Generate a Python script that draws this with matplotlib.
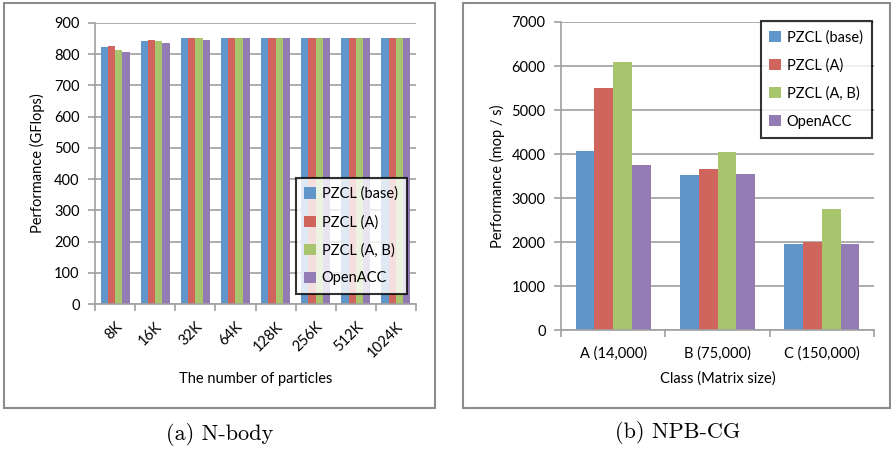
import numpy as np
import matplotlib
matplotlib.use("Agg")
import matplotlib.pyplot as plt
from matplotlib.patches import Rectangle

series = ["PZCL (base)", "PZCL (A)", "PZCL (A, B)", "OpenACC"]
colors = ["#6096C9", "#D0655E", "#A8C46C", "#937CB4"]

nbody_sizes = ["8K", "16K", "32K", "64K", "128K", "256K", "512K", "1024K"]
nbody_base = [822, 841, 851, 851, 851, 851, 851, 851]
nbody_a = [827, 847, 851, 851, 851, 851, 851, 851]
nbody_ab = [813, 841, 851, 851, 851, 851, 851, 851]
nbody_acc = [808, 837, 847, 851, 851, 851, 851, 851]

cg_classes = ["A (14,000)", "B (75,000)", "C (150,000)"]
cg_base = [4070, 3515, 1960]
cg_a = [5490, 3670, 2000]
cg_ab = [6080, 4040, 2750]
cg_acc = [3750, 3545, 1960]

plt.rcParams['font.family'] = ['Lato', 'DejaVu Sans']
W, H = 891, 449
fig = plt.figure(figsize=(W / 100, H / 100), dpi=100)

GRAY = "#A0A0A0"


def px_axes(x0, x1, y0, y1):
    return fig.add_axes([x0 / W, (H - y1) / H, (x1 - x0) / W, (y1 - y0) / H])


def excel_bars(ax, cats, data, ymax, ystep):
    n = len(cats)
    x = np.arange(n)
    bw = 0.18
    for i, (vals, c, lab) in enumerate(zip(data, colors, series)):
        ax.bar(x + (i - 1.5) * bw, vals, bw, color=c, label=lab, zorder=2)
    ax.set_xlim(-0.5, n - 0.5)
    ax.set_ylim(0, ymax)
    ax.set_yticks(np.arange(0, ymax + 1, ystep))
    ax.yaxis.grid(True, color=GRAY, lw=1.2, zorder=0)
    ax.set_axisbelow(True)
    for s in ["top", "right"]:
        ax.spines[s].set_visible(False)
    for s in ["left", "bottom"]:
        ax.spines[s].set_color(GRAY)
        ax.spines[s].set_linewidth(1.2)
    ax.set_xticks(np.arange(-0.5, n, 1.0))
    ax.set_xticklabels([])
    ax.set_xticks(x, minor=True)
    ax.tick_params(axis="x", which="major", length=5, color=GRAY, width=1.2)
    ax.tick_params(axis="x", which="minor", length=0)
    ax.tick_params(axis="y", length=5, color=GRAY, width=1.2, labelsize=10.5, pad=6)
    leg = ax.legend(frameon=True, fancybox=False, fontsize=10.5,
                    handlelength=0.8, handleheight=0.8, handletextpad=0.4,
                    labelspacing=0.95, borderpad=0.6, borderaxespad=0)
    leg.get_frame().set_edgecolor("black")
    leg.get_frame().set_linewidth(1.5)
    return x, leg


# left: N-body
ax1 = px_axes(95, 416, 23, 304)
x1, leg1 = excel_bars(ax1, nbody_sizes, [nbody_base, nbody_a, nbody_ab, nbody_acc], 900, 100)
ax1.set_xticklabels(nbody_sizes, minor=True, rotation=45, ha="right",
                    rotation_mode="anchor", fontsize=10.5)
ax1.tick_params(axis="x", which="minor", pad=11)
leg1.set_bbox_to_anchor(((289 - 95) / 321, (304 - 291) / 281,
                         (413 - 289) / 321, (291 - 181) / 281))
leg1._loc = 10
ax1.set_xlabel("The number of particles", fontsize=10.5)
ax1.xaxis.set_label_coords(0.5, (304 - 379) / 281)
ax1.set_ylabel("Performance (GFlops)", fontsize=10.5)
ax1.yaxis.set_label_coords((37 - 95) / 321, 0.5)
ax1.xaxis.label.set_va("center")
ax1.yaxis.label.set_va("center")

# right: NPB-CG
ax2 = px_axes(561, 874, 22, 330)
x2, leg2 = excel_bars(ax2, cg_classes, [cg_base, cg_a, cg_ab, cg_acc], 7000, 1000)
ax2.set_xticklabels(cg_classes, minor=True, fontsize=10.5)
ax2.tick_params(axis="x", which="minor", pad=12)
leg2.set_bbox_to_anchor(((760 - 561) / 313, (330 - 136) / 308,
                         (872 - 760) / 313, (136 - 23) / 308))
leg2._loc = 10
ax2.set_xlabel("Class (Matrix size)", fontsize=10.5)
ax2.xaxis.set_label_coords(0.5, (330 - 379) / 308)
ax2.set_ylabel("Performance (mop / s)", fontsize=10.5)
ax2.yaxis.set_label_coords((497 - 561) / 313, 0.5)
ax2.xaxis.label.set_va("center")
ax2.yaxis.label.set_va("center")

# panel frames
for (bx0, bx1) in [(4, 435), (463, 890)]:
    fig.add_artist(Rectangle((bx0 / W, (H - 408) / H), (bx1 - bx0) / W, 405 / H,
                             transform=fig.transFigure, fill=False,
                             edgecolor="#8C8C8C", lw=1.5))

fig.text(220 / W, 1 - 434 / H, "(a) N-body", family="cmr10", fontsize=16,
         ha="center", va="center")
fig.text(678 / W, 1 - 433 / H, "(b) NPB-CG", family="cmr10", fontsize=16,
         ha="center", va="center")

fig.savefig("out.png", dpi=100)
